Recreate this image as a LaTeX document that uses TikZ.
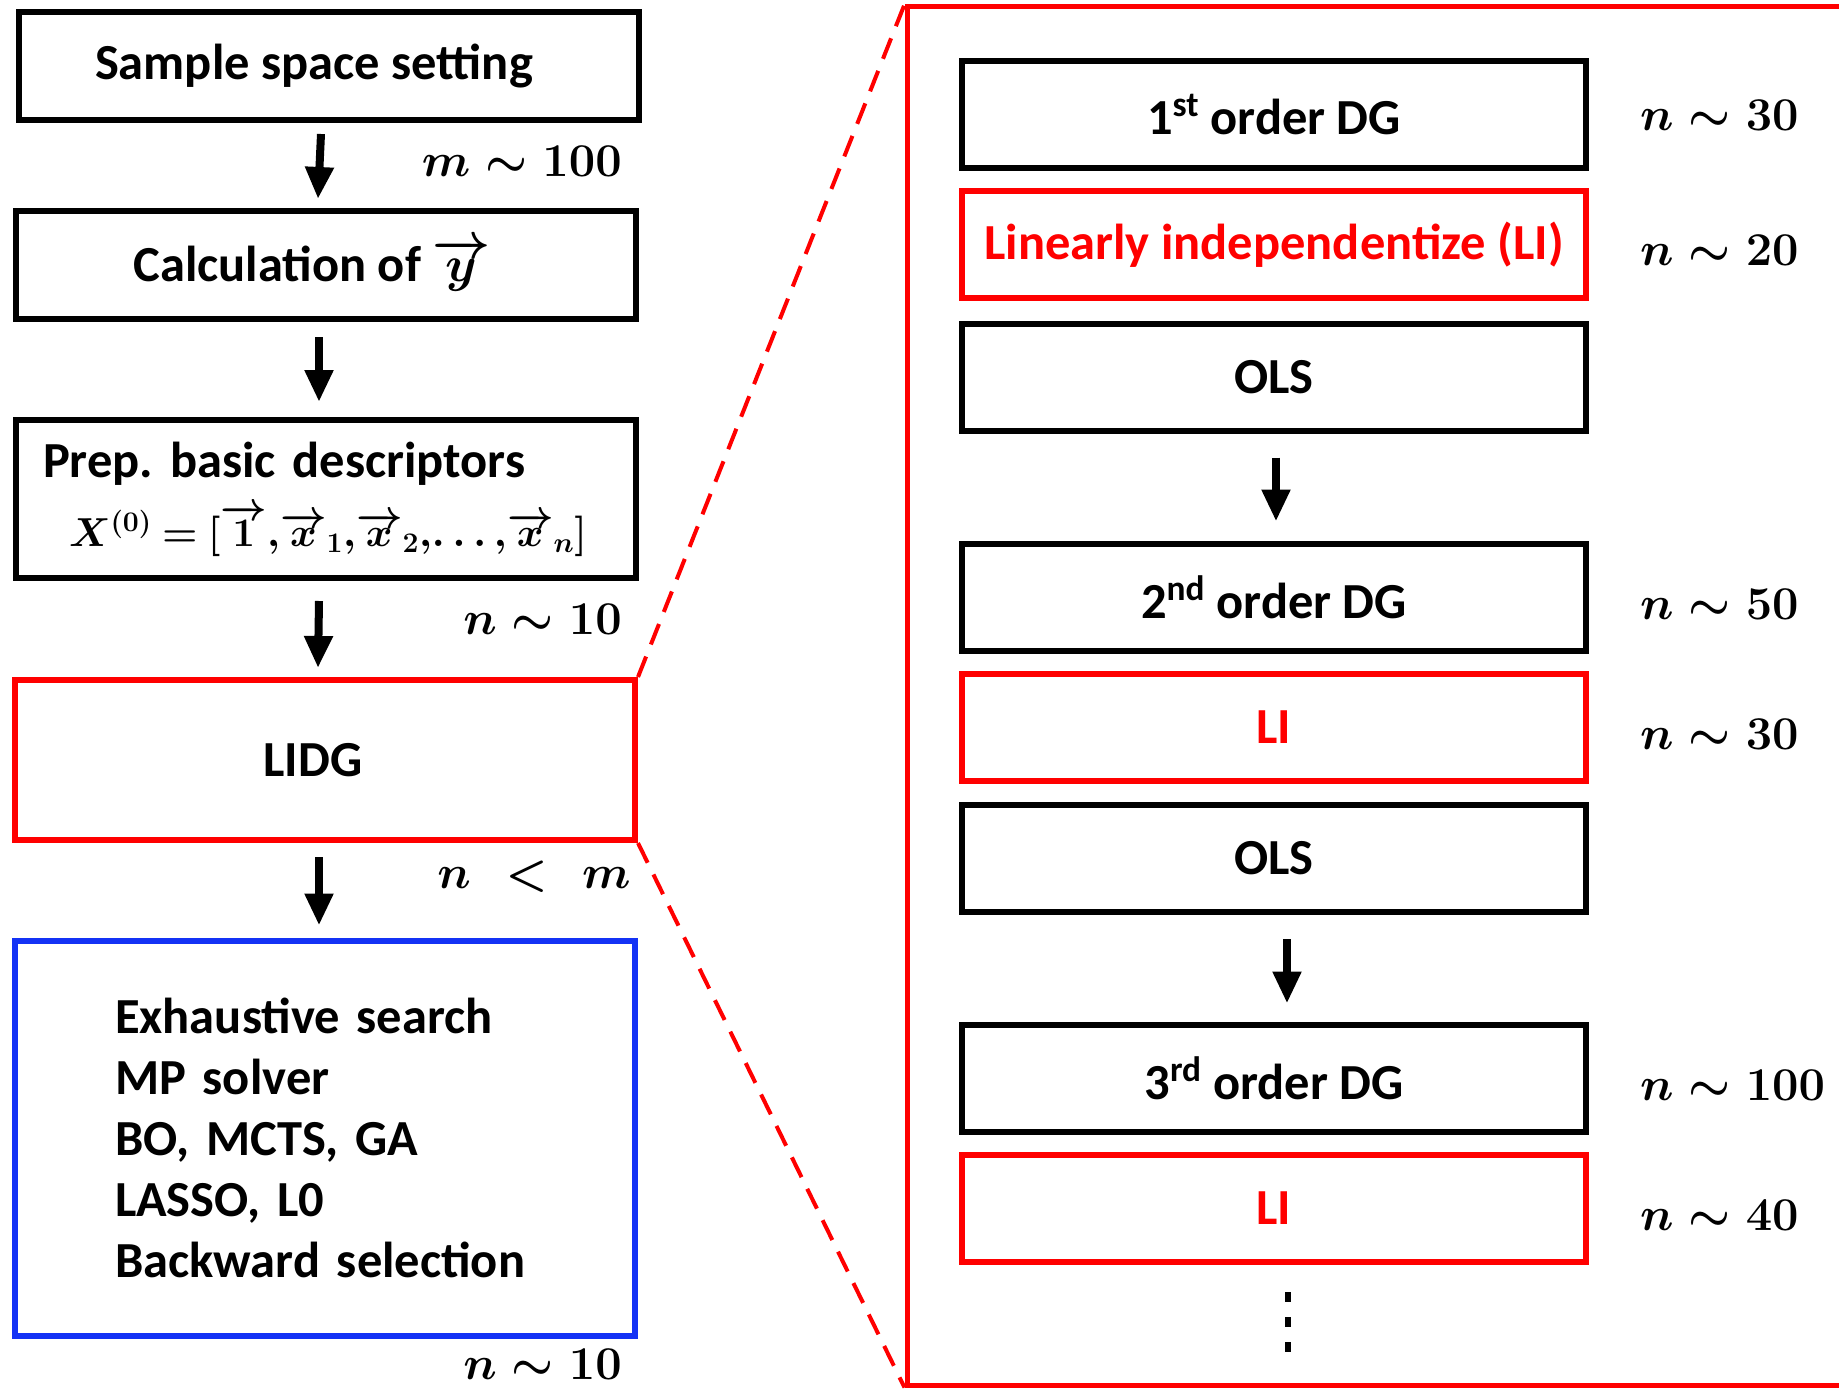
\documentclass[tikz,border=0pt]{standalone}
\usepackage{fix-cm}
\usepackage[no-math]{fontspec}
\setmainfont{Carlito}
\usepackage{amsmath}
\usetikzlibrary{arrows.meta,calc}
\definecolor{lidgred}{RGB}{255,0,0}
\definecolor{searchblue}{RGB}{20,50,245}
\newcommand{\arrvec}[1]{\overrightarrow{#1}}
\newcommand{\calcytext}{Calculation of $\arrvec{y}$}
\newcommand{\basisrow}{\mbox{\fontsize{40.5}{50}\selectfont\thickmuskip=4mu$X^{(0)}=[\arrvec{\mathbf{1}},\!\arrvec{x}_1,\!\arrvec{x}_2,\!\dots,\!\arrvec{x}_n]$}}
\begin{document}
\begin{tikzpicture}[x=1pt,y=-1pt,
  every node/.style={font=\fontsize{50.5}{61}\selectfont\bfseries\boldmath},
  blackbox/.style={draw=black, line width=6pt, inner sep=0pt},
  redbox/.style={draw=lidgred, line width=6pt, inner sep=0pt, text=lidgred},
  bluebox/.style={draw=searchblue, line width=6pt, inner sep=0pt},
  leftbox/.style={minimum width=620pt, minimum height=108pt},
  rightbox/.style={minimum width=624pt, minimum height=107pt},
  countlabel/.style={font=\fontsize{47}{58}\selectfont\boldmath, inner sep=0pt},
  flow/.style={line width=8pt, -{Triangle[width=27pt,length=32pt]}},
  zoomline/.style={draw=lidgred, line width=4pt, dash pattern=on 22pt off 13pt}
]
\useasboundingbox (0,0) rectangle (1839,1389);
\clip (0,0) rectangle (1839,1389);

% ---- left column: overall workflow ----
\node[blackbox, leftbox] (s1) at (329,66) {Sample space setting\hspace*{30pt}};
\node[blackbox, leftbox] (s2) at (326,265) {\calcytext\hspace*{28pt}};
\node[blackbox, leftbox, minimum height=158pt, text width=566pt, align=left] (s3) at (326,499)
  {Prep.\ basic descriptors\\[8pt]\hspace*{26pt}\basisrow};
\node[redbox, leftbox, minimum height=160pt, text=black] (lidg) at (325,760) {LIDG\hspace*{24pt}};
\node[bluebox, leftbox, minimum height=395pt, text width=420pt, align=left] (search) at (325,1138)
  {Exhaustive search\\MP solver\\BO, MCTS, GA\\LASSO, L0\\Backward selection};

\draw[flow] ([xshift=-8pt,yshift=-11pt]s1.south) -- ([xshift=-8pt,yshift=9pt]s2.north);
\draw[flow] ([xshift=-7pt,yshift=-15pt]s2.south) -- ([xshift=-7pt,yshift=15pt]s3.north);
\draw[flow] ([xshift=-7pt,yshift=-20pt]s3.south) -- ([xshift=-7pt,yshift=9pt]lidg.north);
\draw[flow] ([xshift=-6pt,yshift=-14pt]lidg.south) -- ([xshift=-6pt,yshift=12pt]search.north);

\node[countlabel, anchor=east] (m1) at (622,161) {$m\sim 100$};
\node[countlabel, anchor=east] (n1) at (622,619) {$n\sim 10$};
\node[countlabel, anchor=east] (n2) at (631,877) {$n\ \,<\ \,m$};
\node[countlabel, anchor=east] (n3) at (622,1364) {$n\sim 10$};

% ---- right panel: inside of LIDG ----
\node[draw=lidgred, line width=5pt, minimum width=960pt, minimum height=1378pt] (panel) at (1387,696) {};
\draw[zoomline] (lidg.north east) -- (panel.north west);
\draw[zoomline] (lidg.south east) -- (panel.south west);

\node[blackbox, rightbox] (r1) at (1274,114.5) {1\textsuperscript{st} order DG};
\node[redbox, rightbox] (r2) at (1274,244.5) {Linearly independentize (LI)};
\node[blackbox, rightbox] (r3) at (1274,377) {OLS};
\node[blackbox, rightbox] (r4) at (1274,597) {2\textsuperscript{nd} order DG};
\node[redbox, rightbox] (r5) at (1274,727) {LI};
\node[blackbox, rightbox] (r6) at (1274,858.5) {OLS};
\node[blackbox, rightbox] (r7) at (1274,1078) {3\textsuperscript{rd} order DG};
\node[redbox, rightbox] (r8) at (1274,1208) {LI};

\draw[flow] ([xshift=2pt,yshift=-24pt]r3.south) -- ([xshift=2pt,yshift=19pt]r4.north);
\draw[flow] ([xshift=13pt,yshift=-24pt]r6.south) -- ([xshift=13pt,yshift=18pt]r7.north);

% vertical ellipsis below the last step
\foreach \yy in {1297,1322,1347}
  \fill (1285,\yy-5) rectangle (1291,\yy+5);

\node[countlabel, anchor=west] (c1) at (1640,115) {$n\sim 30$};
\node[countlabel, anchor=west] (c2) at (1640,250) {$n\sim 20$};
\node[countlabel, anchor=west] (c3) at (1640,604) {$n\sim 50$};
\node[countlabel, anchor=west] (c4) at (1640,734) {$n\sim 30$};
\node[countlabel, anchor=west] (c5) at (1640,1085) {$n\sim 100$};
\node[countlabel, anchor=west] (c6) at (1640,1215) {$n\sim 40$};
\end{tikzpicture}
\end{document}
